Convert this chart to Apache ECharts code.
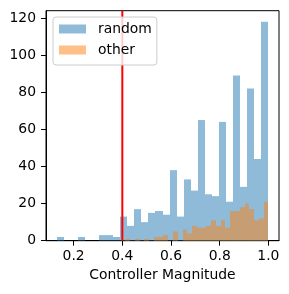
<!DOCTYPE html>
<html>
<head>
<meta charset="utf-8">
<script src="https://cdn.jsdelivr.net/npm/echarts@6/dist/echarts.min.js"></script>
<style>
html,body{margin:0;padding:0;background:#fff;}
#chart{width:289px;height:294px;}
</style>
</head>
<body>
<div id="chart"></div>
<script>
// ---- data ----
const seriesNames = ['random', 'other'];
const randomBinStart = 0.13;
const randomBinWidth = 0.029;
const randomCounts = [2,0,0,2,0,0,3,3,2,13,8,17,10,15,16,14,38,13,33,27,65,25,24,64,21,89,29,82,44,118];
const otherBinStart = 0.4123;
const otherBinWidth = (1.0 - 0.4123) / 30;
const otherCounts = [1,0,1,0,1,0,2,2,3,0,5,0,6,4,8,7,7,8,11,8,11,7,16,16,18,20,17,11,12,21];
const thresholdX = 0.4;
const xTicks = [0.2, 0.4, 0.6, 0.8, 1.0];
const yTicks = [0, 20, 40, 60, 80, 100, 120];
const xLimits = [0.0865, 1.0435];
const yLimits = [0, 123.9];
const xLabel = 'Controller Magnitude';

function toBins(start, width, counts) {
  return counts.map((c, i) => [start + i * width, start + (i + 1) * width, c]);
}

const FONT = 'DejaVu Sans';
const chart = echarts.init(document.getElementById('chart'), null, {renderer: 'canvas'});

function histSeries(name, data, color) {
  return {
    type: 'custom',
    name: name,
    data: data,
    encode: {x: [0, 1], y: 2},
    itemStyle: {color: color},
    renderItem: function (params, api) {
      const p0 = api.coord([api.value(0), api.value(2)]);
      const p1 = api.coord([api.value(1), 0]);
      const x0 = Math.round(p0[0]);
      const x1 = Math.round(p1[0]);
      return {
        type: 'rect',
        shape: {x: x0, y: p0[1], width: x1 - x0, height: p1[1] - p0[1]},
        style: {fill: color}
      };
    }
  };
}

const option = {
  animation: false,
  grid: {left: 46, right: 10, top: 10.7, bottom: 53.3, show: true, borderColor: '#000', borderWidth: 1, containLabel: false},
  legend: {
    data: seriesNames,
    orient: 'vertical',
    left: 53,
    top: 17,
    itemWidth: 27,
    itemHeight: 9,
    itemGap: 7,
    padding: [5, 5, 8, 6],
    backgroundColor: 'rgba(255,255,255,0.8)',
    borderColor: '#cccccc',
    borderWidth: 1,
    borderRadius: 3,
    icon: 'rect',
    textStyle: {fontFamily: FONT, fontSize: 13.9, color: '#000', padding: [0, 0, 0, 7]}
  },
  xAxis: {
    type: 'value',
    min: xLimits[0],
    max: xLimits[1],
    name: xLabel,
    nameLocation: 'middle',
    nameGap: 27,
    nameTextStyle: {fontFamily: FONT, fontSize: 13.9, color: '#000'},
    splitLine: {show: false},
    axisLine: {show: true, lineStyle: {color: '#000', width: 1}},
    axisTick: {show: true, inside: false, length: 5, lineStyle: {color: '#000', width: 1}, customValues: xTicks},
    axisLabel: {fontFamily: FONT, fontSize: 13.9, color: '#000', margin: 9, customValues: xTicks,
      formatter: v => v.toFixed(1)}
  },
  yAxis: {
    type: 'value',
    min: yLimits[0],
    max: yLimits[1],
    splitLine: {show: false},
    axisLine: {show: true, lineStyle: {color: '#000', width: 1}},
    axisTick: {show: true, inside: false, length: 5, lineStyle: {color: '#000', width: 1}, customValues: yTicks},
    axisLabel: {fontFamily: FONT, fontSize: 13.9, color: '#000', margin: 10, customValues: yTicks,
      formatter: v => String(v)}
  },
  series: [
    histSeries(seriesNames[0], toBins(randomBinStart, randomBinWidth, randomCounts), 'rgba(31,119,180,0.5)'),
    histSeries(seriesNames[1], toBins(otherBinStart, otherBinWidth, otherCounts), 'rgba(255,127,14,0.5)'),
    {
      type: 'line',
      name: 'threshold',
      data: [[thresholdX, yLimits[0]], [thresholdX, yLimits[1]]],
      showSymbol: false,
      symbol: 'none',
      lineStyle: {color: '#ff0000', width: 2},
      z: 3,
      silent: true
    }
  ]
};
chart.setOption(option);
</script>
</body>
</html>
